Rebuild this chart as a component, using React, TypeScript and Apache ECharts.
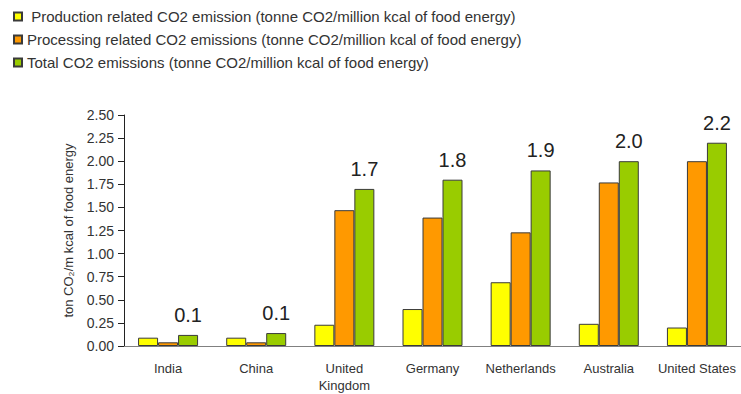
import React, { useEffect, useRef } from "react";
import * as echarts from "echarts";

const countries = ["India", "China", "United\nKingdom", "Germany", "Netherlands", "Australia", "United States"];
const production = [0.09, 0.09, 0.23, 0.4, 0.69, 0.24, 0.2];
const processing = [0.04, 0.04, 1.47, 1.39, 1.23, 1.77, 2.0];
const total = [0.12, 0.14, 1.7, 1.8, 1.9, 2.0, 2.2];

const seriesNames = [
  " Production related CO2 emission (tonne CO2/million kcal of food energy)",
  "Processing related CO2 emissions (tonne CO2/million kcal of food energy)",
  "Total CO2 emissions (tonne CO2/million kcal of food energy)",
];
const colors = ["#FFFF00", "#FF9900", "#99CC00"];

const FONT = "Arial, 'Liberation Sans', sans-serif";

export default function App() {
  const ref = useRef<HTMLDivElement>(null);

  useEffect(() => {
    if (!ref.current) return;
    const chart = echarts.init(ref.current, undefined, { renderer: "svg" });
    const mkSeries = (i: number, data: number[], withLabel: boolean) => ({
      name: seriesNames[i],
      type: "bar",
      data,
      barWidth: 20,
      barGap: "0%",
      itemStyle: { color: colors[i], borderColor: "#3a3a3a", borderWidth: 1 },
      label: withLabel
        ? {
            show: true,
            position: "top",
            distance: 10,
            fontSize: 20,
            fontFamily: FONT,
            color: "#222",
            formatter: (p: any) => Number(p.value).toFixed(1),
          }
        : { show: false },
    });
    chart.setOption({
      animation: false,
      backgroundColor: "#ffffff",
      textStyle: { fontFamily: FONT },
      legend: {
        orient: "vertical",
        left: 13,
        top: 9,
        padding: 0,
        itemGap: 8,
        itemWidth: 8,
        itemHeight: 8,
        icon: "rect",
        textStyle: { fontSize: 15, lineHeight: 15, color: "#333", fontFamily: FONT },
        data: seriesNames,
      },
      grid: { left: 124, top: 115, width: 623, height: 235, containLabel: false },
      xAxis: {
        type: "category",
        data: countries,
        axisLine: { lineStyle: { color: "#808080", width: 1 } },
        axisTick: { show: false },
        axisLabel: {
          interval: 0,
          fontSize: 13,
          color: "#333",
          fontFamily: FONT,
          margin: 14,
          lineHeight: 17,
        },
      },
      yAxis: {
        type: "value",
        min: 0,
        max: 2.5,
        interval: 0.25,
        name: "ton CO₂/m kcal of food energy",
        nameLocation: "middle",
        nameGap: 49,
        nameTextStyle: { fontSize: 13, color: "#333", fontFamily: FONT },
        axisLine: { show: true, lineStyle: { color: "#222", width: 1 } },
        axisTick: { show: true, length: 6, lineStyle: { color: "#222" } },
        splitLine: { show: false },
        axisLabel: {
          fontSize: 14,
          color: "#333",
          fontFamily: FONT,
          margin: 10,
          formatter: (v: number) => v.toFixed(2),
        },
      },
      series: [mkSeries(0, production, false), mkSeries(1, processing, false), mkSeries(2, total, true)],
    });
    return () => chart.dispose();
  }, []);

  return <div ref={ref} style={{ width: 741, height: 394, position: "absolute", left: 0, top: 0 }} />;
}
